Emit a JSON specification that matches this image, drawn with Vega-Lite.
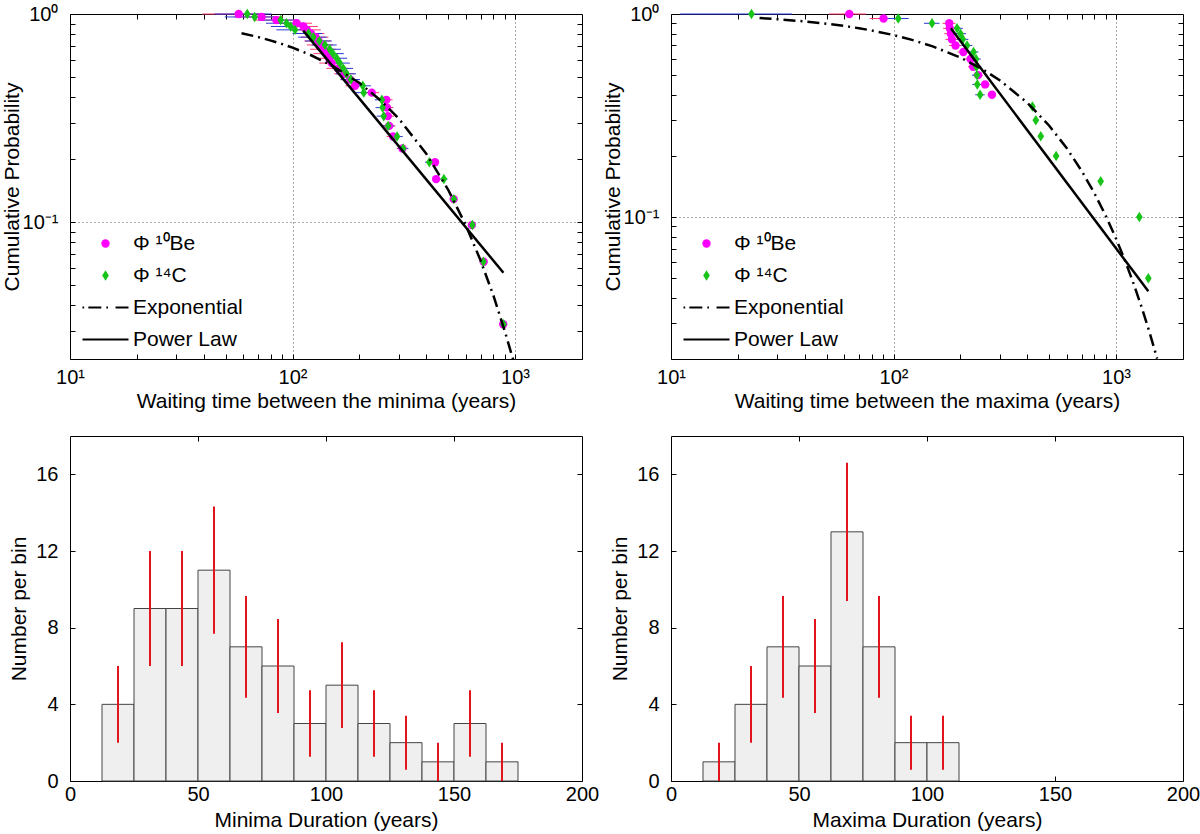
{
  "$schema": "https://vega.github.io/schema/vega-lite/v6.json",
  "padding": {"left": 0, "top": 3, "right": 0, "bottom": 0},
  "bounds": "flush",
  "columns": 2,
  "spacing": {"row": 77, "column": 89},
  "resolve": {"scale": {"color": "independent", "shape": "independent"}},
  "config": {
    "font": "Liberation Sans",
    "view": {"stroke": "black", "strokeWidth": 1},
    "axis": {
      "labelFont": "Liberation Sans", "labelFontSize": 20, "labelColor": "black",
      "titleFont": "Liberation Sans", "titleFontSize": 21, "titleFontWeight": "normal", "titleColor": "black",
      "domain": false, "tickColor": "black", "tickSize": -5, "tickWidth": 1,
      "labelFlush": false, "labelOverlap": false, "labelBound": false
    },
    "legend": {"labelFont": "Liberation Sans", "labelFontSize": 21, "labelColor": "black"}
  },
  "datasets": {
    "minPts": [
      {"series": "Φ ¹⁰Be", "x": 57.3, "p": 1.0, "lo": 39.3, "hi": 75.3},
      {"series": "Φ ¹⁰Be", "x": 72.6, "p": 0.968, "lo": 54.6, "hi": 90.6},
      {"series": "Φ ¹⁰Be", "x": 84.6, "p": 0.935, "lo": 66.6, "hi": 102.6},
      {"series": "Φ ¹⁰Be", "x": 104.4, "p": 0.903, "lo": 86.4, "hi": 122.4},
      {"series": "Φ ¹⁰Be", "x": 112, "p": 0.871, "lo": 94, "hi": 130},
      {"series": "Φ ¹⁰Be", "x": 116, "p": 0.839, "lo": 98, "hi": 134},
      {"series": "Φ ¹⁰Be", "x": 121, "p": 0.806, "lo": 103, "hi": 139},
      {"series": "Φ ¹⁰Be", "x": 127, "p": 0.774, "lo": 109, "hi": 145},
      {"series": "Φ ¹⁰Be", "x": 131, "p": 0.742, "lo": 113, "hi": 149},
      {"series": "Φ ¹⁰Be", "x": 134, "p": 0.710, "lo": 116, "hi": 152},
      {"series": "Φ ¹⁰Be", "x": 138, "p": 0.677, "lo": 120, "hi": 156},
      {"series": "Φ ¹⁰Be", "x": 142, "p": 0.645, "lo": 124, "hi": 160},
      {"series": "Φ ¹⁰Be", "x": 146, "p": 0.613, "lo": 128, "hi": 164},
      {"series": "Φ ¹⁰Be", "x": 150, "p": 0.581, "lo": 132, "hi": 168},
      {"series": "Φ ¹⁰Be", "x": 160, "p": 0.548, "lo": 142, "hi": 178},
      {"series": "Φ ¹⁰Be", "x": 172, "p": 0.516, "lo": 154, "hi": 190},
      {"series": "Φ ¹⁰Be", "x": 182, "p": 0.484, "lo": 164, "hi": 200},
      {"series": "Φ ¹⁰Be", "x": 191, "p": 0.452, "lo": 173, "hi": 209},
      {"series": "Φ ¹⁰Be", "x": 227, "p": 0.419, "lo": 209, "hi": 245},
      {"series": "Φ ¹⁰Be", "x": 264, "p": 0.387, "lo": 246, "hi": 282},
      {"series": "Φ ¹⁰Be", "x": 266, "p": 0.355, "lo": 248, "hi": 284},
      {"series": "Φ ¹⁰Be", "x": 268, "p": 0.323, "lo": 250, "hi": 286},
      {"series": "Φ ¹⁰Be", "x": 272, "p": 0.290, "lo": 254, "hi": 290},
      {"series": "Φ ¹⁰Be", "x": 283, "p": 0.258, "lo": 265, "hi": 301},
      {"series": "Φ ¹⁰Be", "x": 312, "p": 0.226, "lo": 294, "hi": 330},
      {"series": "Φ ¹⁰Be", "x": 437, "p": 0.194, "lo": 419, "hi": 455},
      {"series": "Φ ¹⁰Be", "x": 442, "p": 0.161, "lo": 424, "hi": 460},
      {"series": "Φ ¹⁰Be", "x": 530, "p": 0.129, "lo": 512, "hi": 548},
      {"series": "Φ ¹⁰Be", "x": 640, "p": 0.0968, "lo": 622, "hi": 658},
      {"series": "Φ ¹⁰Be", "x": 723, "p": 0.0645, "lo": 705, "hi": 741},
      {"series": "Φ ¹⁰Be", "x": 885, "p": 0.0323, "lo": 867, "hi": 903},
      {"series": "Φ ¹⁴C", "x": 62.6, "p": 1.0, "lo": 44.6, "hi": 80.6},
      {"series": "Φ ¹⁴C", "x": 67.6, "p": 0.968, "lo": 49.6, "hi": 85.6},
      {"series": "Φ ¹⁴C", "x": 88.5, "p": 0.935, "lo": 70.5, "hi": 106.5},
      {"series": "Φ ¹⁴C", "x": 94, "p": 0.903, "lo": 76, "hi": 112},
      {"series": "Φ ¹⁴C", "x": 98, "p": 0.871, "lo": 80, "hi": 116},
      {"series": "Φ ¹⁴C", "x": 102.6, "p": 0.839, "lo": 84.6, "hi": 120.6},
      {"series": "Φ ¹⁴C", "x": 118, "p": 0.806, "lo": 100, "hi": 136},
      {"series": "Φ ¹⁴C", "x": 124, "p": 0.774, "lo": 106, "hi": 142},
      {"series": "Φ ¹⁴C", "x": 132, "p": 0.742, "lo": 114, "hi": 150},
      {"series": "Φ ¹⁴C", "x": 140, "p": 0.710, "lo": 122, "hi": 158},
      {"series": "Φ ¹⁴C", "x": 147, "p": 0.677, "lo": 129, "hi": 165},
      {"series": "Φ ¹⁴C", "x": 152, "p": 0.645, "lo": 134, "hi": 170},
      {"series": "Φ ¹⁴C", "x": 158, "p": 0.613, "lo": 140, "hi": 176},
      {"series": "Φ ¹⁴C", "x": 163, "p": 0.581, "lo": 145, "hi": 181},
      {"series": "Φ ¹⁴C", "x": 169, "p": 0.548, "lo": 151, "hi": 187},
      {"series": "Φ ¹⁴C", "x": 175, "p": 0.516, "lo": 157, "hi": 193},
      {"series": "Φ ¹⁴C", "x": 183, "p": 0.484, "lo": 165, "hi": 201},
      {"series": "Φ ¹⁴C", "x": 207, "p": 0.452, "lo": 189, "hi": 225},
      {"series": "Φ ¹⁴C", "x": 209, "p": 0.419, "lo": 191, "hi": 227},
      {"series": "Φ ¹⁴C", "x": 252, "p": 0.387, "lo": 234, "hi": 270},
      {"series": "Φ ¹⁴C", "x": 254, "p": 0.355, "lo": 236, "hi": 272},
      {"series": "Φ ¹⁴C", "x": 257, "p": 0.323, "lo": 239, "hi": 275},
      {"series": "Φ ¹⁴C", "x": 269, "p": 0.290, "lo": 251, "hi": 287},
      {"series": "Φ ¹⁴C", "x": 295, "p": 0.258, "lo": 277, "hi": 313},
      {"series": "Φ ¹⁴C", "x": 314, "p": 0.226, "lo": 296, "hi": 332},
      {"series": "Φ ¹⁴C", "x": 412, "p": 0.194, "lo": 394, "hi": 430},
      {"series": "Φ ¹⁴C", "x": 479, "p": 0.161, "lo": 461, "hi": 497},
      {"series": "Φ ¹⁴C", "x": 531, "p": 0.129, "lo": 513, "hi": 549},
      {"series": "Φ ¹⁴C", "x": 643, "p": 0.0968, "lo": 625, "hi": 661},
      {"series": "Φ ¹⁴C", "x": 721, "p": 0.0645, "lo": 703, "hi": 739},
      {"series": "Φ ¹⁴C", "x": 887, "p": 0.0323, "lo": 869, "hi": 905}
    ],
    "maxPts": [
      {"series": "Φ ¹⁰Be", "x": 63.3, "p": 1.0, "lo": 51.3, "hi": 75.3},
      {"series": "Φ ¹⁰Be", "x": 90.2, "p": 0.95, "lo": 78.2, "hi": 102.2},
      {"series": "Φ ¹⁰Be", "x": 178, "p": 0.90, "lo": 166, "hi": 190},
      {"series": "Φ ¹⁰Be", "x": 179, "p": 0.85, "lo": 167, "hi": 191},
      {"series": "Φ ¹⁰Be", "x": 181, "p": 0.80, "lo": 169, "hi": 193},
      {"series": "Φ ¹⁰Be", "x": 183, "p": 0.75, "lo": 171, "hi": 195},
      {"series": "Φ ¹⁰Be", "x": 190, "p": 0.70, "lo": 178, "hi": 202},
      {"series": "Φ ¹⁰Be", "x": 206, "p": 0.65, "lo": 194, "hi": 218},
      {"series": "Φ ¹⁰Be", "x": 222, "p": 0.60, "lo": 210, "hi": 234},
      {"series": "Φ ¹⁰Be", "x": 228, "p": 0.55, "lo": 216, "hi": 240},
      {"series": "Φ ¹⁰Be", "x": 240, "p": 0.50, "lo": 228, "hi": 252},
      {"series": "Φ ¹⁰Be", "x": 258, "p": 0.45, "lo": 246, "hi": 270},
      {"series": "Φ ¹⁰Be", "x": 277, "p": 0.40, "lo": 265, "hi": 289},
      {"series": "Φ ¹⁴C", "x": 23, "p": 1.0, "lo": 11, "hi": 35},
      {"series": "Φ ¹⁴C", "x": 105, "p": 0.95, "lo": 93, "hi": 117},
      {"series": "Φ ¹⁴C", "x": 149, "p": 0.90, "lo": 137, "hi": 161},
      {"series": "Φ ¹⁴C", "x": 193, "p": 0.85, "lo": 181, "hi": 205},
      {"series": "Φ ¹⁴C", "x": 200, "p": 0.80, "lo": 188, "hi": 212},
      {"series": "Φ ¹⁴C", "x": 205, "p": 0.75, "lo": 193, "hi": 217},
      {"series": "Φ ¹⁴C", "x": 214, "p": 0.70, "lo": 202, "hi": 226},
      {"series": "Φ ¹⁴C", "x": 229, "p": 0.65, "lo": 217, "hi": 241},
      {"series": "Φ ¹⁴C", "x": 235, "p": 0.60, "lo": 223, "hi": 247},
      {"series": "Φ ¹⁴C", "x": 236, "p": 0.55, "lo": 224, "hi": 248},
      {"series": "Φ ¹⁴C", "x": 237, "p": 0.50, "lo": 225, "hi": 249},
      {"series": "Φ ¹⁴C", "x": 238, "p": 0.45, "lo": 226, "hi": 250},
      {"series": "Φ ¹⁴C", "x": 245, "p": 0.40, "lo": 233, "hi": 257},
      {"series": "Φ ¹⁴C", "x": 421, "p": 0.35, "lo": 409, "hi": 433},
      {"series": "Φ ¹⁴C", "x": 436, "p": 0.30, "lo": 424, "hi": 448},
      {"series": "Φ ¹⁴C", "x": 459, "p": 0.25, "lo": 447, "hi": 471},
      {"series": "Φ ¹⁴C", "x": 538, "p": 0.20, "lo": 526, "hi": 550},
      {"series": "Φ ¹⁴C", "x": 853, "p": 0.15, "lo": 841, "hi": 865},
      {"series": "Φ ¹⁴C", "x": 1273, "p": 0.10, "lo": 1261, "hi": 1285},
      {"series": "Φ ¹⁴C", "x": 1397, "p": 0.05, "lo": 1385, "hi": 1409}
    ],
    "minExp": [
      {"x": 59, "p": 0.809}, {"x": 70, "p": 0.775}, {"x": 80, "p": 0.745}, {"x": 90, "p": 0.717},
      {"x": 100, "p": 0.689}, {"x": 120, "p": 0.637}, {"x": 150, "p": 0.566}, {"x": 200, "p": 0.466},
      {"x": 250, "p": 0.383}, {"x": 300, "p": 0.315}, {"x": 400, "p": 0.2125}, {"x": 500, "p": 0.1435},
      {"x": 600, "p": 0.097}, {"x": 700, "p": 0.0655}, {"x": 800, "p": 0.0443}, {"x": 900, "p": 0.0299},
      {"x": 980, "p": 0.0219}
    ],
    "maxExp": [
      {"x": 25, "p": 0.955}, {"x": 30, "p": 0.943}, {"x": 40, "p": 0.919}, {"x": 50, "p": 0.896},
      {"x": 60, "p": 0.873}, {"x": 70, "p": 0.851}, {"x": 80, "p": 0.829}, {"x": 100, "p": 0.788},
      {"x": 120, "p": 0.748}, {"x": 150, "p": 0.693}, {"x": 200, "p": 0.610}, {"x": 250, "p": 0.536},
      {"x": 300, "p": 0.472}, {"x": 400, "p": 0.365}, {"x": 500, "p": 0.2825}, {"x": 600, "p": 0.2186},
      {"x": 700, "p": 0.1691}, {"x": 800, "p": 0.1309}, {"x": 900, "p": 0.1013}, {"x": 1000, "p": 0.0784},
      {"x": 1100, "p": 0.0607}, {"x": 1200, "p": 0.0469}, {"x": 1300, "p": 0.0363}, {"x": 1400, "p": 0.0281},
      {"x": 1500, "p": 0.0217}, {"x": 1530, "p": 0.0201}
    ],
    "minPow": [{"x": 111.7, "p": 0.832}, {"x": 887, "p": 0.0571}],
    "maxPow": [{"x": 181, "p": 0.85}, {"x": 1397, "p": 0.0431}],
    "minHist": [
      {"b0": 12.5, "b1": 25, "c": 18.75, "n": 4, "lo": 2, "hi": 6},
      {"b0": 25, "b1": 37.5, "c": 31.25, "n": 9, "lo": 6, "hi": 12},
      {"b0": 37.5, "b1": 50, "c": 43.75, "n": 9, "lo": 6, "hi": 12},
      {"b0": 50, "b1": 62.5, "c": 56.25, "n": 11, "lo": 7.68, "hi": 14.32},
      {"b0": 62.5, "b1": 75, "c": 68.75, "n": 7, "lo": 4.35, "hi": 9.65},
      {"b0": 75, "b1": 87.5, "c": 81.25, "n": 6, "lo": 3.55, "hi": 8.45},
      {"b0": 87.5, "b1": 100, "c": 93.75, "n": 3, "lo": 1.27, "hi": 4.73},
      {"b0": 100, "b1": 112.5, "c": 106.25, "n": 5, "lo": 2.76, "hi": 7.24},
      {"b0": 112.5, "b1": 125, "c": 118.75, "n": 3, "lo": 1.27, "hi": 4.73},
      {"b0": 125, "b1": 137.5, "c": 131.25, "n": 2, "lo": 0.59, "hi": 3.41},
      {"b0": 137.5, "b1": 150, "c": 143.75, "n": 1, "lo": 0, "hi": 2},
      {"b0": 150, "b1": 162.5, "c": 156.25, "n": 3, "lo": 1.27, "hi": 4.73},
      {"b0": 162.5, "b1": 175, "c": 168.75, "n": 1, "lo": 0, "hi": 2}
    ],
    "maxHist": [
      {"b0": 12.5, "b1": 25, "c": 18.75, "n": 1, "lo": 0, "hi": 2},
      {"b0": 25, "b1": 37.5, "c": 31.25, "n": 4, "lo": 2, "hi": 6},
      {"b0": 37.5, "b1": 50, "c": 43.75, "n": 7, "lo": 4.35, "hi": 9.65},
      {"b0": 50, "b1": 62.5, "c": 56.25, "n": 6, "lo": 3.55, "hi": 8.45},
      {"b0": 62.5, "b1": 75, "c": 68.75, "n": 13, "lo": 9.39, "hi": 16.61},
      {"b0": 75, "b1": 87.5, "c": 81.25, "n": 7, "lo": 4.35, "hi": 9.65},
      {"b0": 87.5, "b1": 100, "c": 93.75, "n": 2, "lo": 0.59, "hi": 3.41},
      {"b0": 100, "b1": 112.5, "c": 106.25, "n": 2, "lo": 0.59, "hi": 3.41}
    ]
  },
  "concat": [
    {
      "width": 512, "height": 345,
      "resolve": {"axis": {"x": "independent", "y": "independent"}},
      "layer": [
        {
          "data": {"name": "minPts"},
          "mark": {"type": "rule", "strokeWidth": 1},
          "encoding": {
            "x": {"field": "lo", "type": "quantitative", "scale": {"type": "log", "domain": [10, 2000], "nice": false},
              "axis": {"orient": "bottom", "values": [10,20,30,40,50,60,70,80,90,100,200,300,400,500,600,700,800,900,1000,2000],
                "labelExpr": "datum.value === 10 ? '10¹' : datum.value === 100 ? '10²' : datum.value === 1000 ? '10³' : ''",
                "grid": true, "gridDash": [1, 3], "gridColor": "#555",
                "gridOpacity": {"condition": {"test": "datum.value === 100 || datum.value === 1000", "value": 1}, "value": 0},
                "labelPadding": 13, "title": "Waiting time between the minima (years)", "titlePadding": 3}},
            "x2": {"field": "hi"},
            "y": {"field": "p", "type": "quantitative", "scale": {"type": "log", "domain": [0.022, 1], "nice": false},
              "axis": {"orient": "left", "values": [0.03,0.04,0.05,0.06,0.07,0.08,0.09,0.1,0.2,0.3,0.4,0.5,0.6,0.7,0.8,0.9,1],
                "labelExpr": "datum.value === 1 ? '10⁰' : datum.value === 0.1 ? '10⁻¹' : ''",
                "grid": true, "gridDash": [1, 3], "gridColor": "#555",
                "gridOpacity": {"condition": {"test": "datum.value === 0.1", "value": 1}, "value": 0},
                "labelPadding": 17, "title": "Cumulative Probability", "titlePadding": 0}},
            "color": {"condition": {"test": "datum.series === 'Φ ¹⁴C'", "value": "#2a3ad6"}, "value": "#ff3870"}
          }
        },
        {
          "data": {"name": "minPts"},
          "mark": {"type": "point", "filled": true, "opacity": 1, "size": 70},
          "encoding": {
            "x": {"field": "x", "type": "quantitative", "axis": null},
            "y": {"field": "p", "type": "quantitative", "axis": null},
            "color": {"field": "series", "type": "nominal",
              "scale": {"domain": ["Φ ¹⁰Be", "Φ ¹⁴C", "Exponential", "Power Law"], "range": ["#ff00ff", "#18c418", "black", "black"]},
              "legend": {"title": null, "orient": "bottom-left", "offset": 9, "padding": 0, "symbolOffset": 16, "labelOffset": 17, "rowPadding": 10, "symbolSize": 70, "symbolStrokeWidth": 0}},
            "shape": {"field": "series", "type": "nominal",
              "scale": {"domain": ["Φ ¹⁰Be", "Φ ¹⁴C", "Exponential", "Power Law"],
                "range": ["circle", "M0,-1.25L0.8,0L0,1.25L-0.8,0Z",
                  "M-5.5,-0.26h0.4v0.52h-0.4ZM-4.1,-0.26h3.1v0.52h-3.1ZM0.2,-0.26h0.4v0.52h-0.4ZM2.4,-0.26h3.1v0.52h-3.1Z",
                  "M-5.5,-0.26h11v0.52h-11Z"]},
              "legend": {"title": null, "orient": "bottom-left", "offset": 9, "padding": 0, "symbolOffset": 16, "labelOffset": 17, "rowPadding": 10, "symbolSize": 70, "symbolStrokeWidth": 0}}
          }
        },
        {
          "data": {"name": "minExp"},
          "mark": {"type": "line", "color": "black", "strokeWidth": 2.5, "strokeDash": [12, 5, 2, 5], "clip": true},
          "encoding": {
            "x": {"field": "x", "type": "quantitative", "axis": null},
            "y": {"field": "p", "type": "quantitative", "axis": null}
          }
        },
        {
          "data": {"name": "minPow"},
          "mark": {"type": "line", "color": "black", "strokeWidth": 2.5, "clip": true},
          "encoding": {
            "x": {"field": "x", "type": "quantitative",
              "axis": {"orient": "top", "values": [20,30,40,50,60,70,80,90,100,200,300,400,500,600,700,800,900,1000], "labels": false, "grid": false, "title": null}},
            "y": {"field": "p", "type": "quantitative",
              "axis": {"orient": "right", "values": [0.03,0.04,0.05,0.06,0.07,0.08,0.09,0.1,0.2,0.3,0.4,0.5,0.6,0.7,0.8,0.9], "labels": false, "grid": false, "title": null}}
          }
        }
      ]
    },
    {
      "width": 512, "height": 345,
      "resolve": {"axis": {"x": "independent", "y": "independent"}},
      "layer": [
        {
          "data": {"name": "maxPts"},
          "mark": {"type": "rule", "strokeWidth": 1},
          "encoding": {
            "x": {"field": "lo", "type": "quantitative", "scale": {"type": "log", "domain": [10, 2000], "nice": false},
              "axis": {"orient": "bottom", "values": [10,20,30,40,50,60,70,80,90,100,200,300,400,500,600,700,800,900,1000,2000],
                "labelExpr": "datum.value === 10 ? '10¹' : datum.value === 100 ? '10²' : datum.value === 1000 ? '10³' : ''",
                "grid": true, "gridDash": [1, 3], "gridColor": "#555",
                "gridOpacity": {"condition": {"test": "datum.value === 100 || datum.value === 1000", "value": 1}, "value": 0},
                "labelPadding": 13, "title": "Waiting time between the maxima (years)", "titlePadding": 3}},
            "x2": {"field": "hi"},
            "y": {"field": "p", "type": "quantitative", "scale": {"type": "log", "domain": [0.02, 1], "nice": false},
              "axis": {"orient": "left", "values": [0.03,0.04,0.05,0.06,0.07,0.08,0.09,0.1,0.2,0.3,0.4,0.5,0.6,0.7,0.8,0.9,1],
                "labelExpr": "datum.value === 1 ? '10⁰' : datum.value === 0.1 ? '10⁻¹' : ''",
                "grid": true, "gridDash": [1, 3], "gridColor": "#555",
                "gridOpacity": {"condition": {"test": "datum.value === 0.1", "value": 1}, "value": 0},
                "labelPadding": 17, "title": "Cumulative Probability", "titlePadding": 0}},
            "color": {"condition": {"test": "datum.series === 'Φ ¹⁴C'", "value": "#2a3ad6"}, "value": "#ff3870"}
          }
        },
        {
          "data": {"name": "maxPts"},
          "mark": {"type": "point", "filled": true, "opacity": 1, "size": 70},
          "encoding": {
            "x": {"field": "x", "type": "quantitative", "axis": null},
            "y": {"field": "p", "type": "quantitative", "axis": null},
            "color": {"field": "series", "type": "nominal",
              "scale": {"domain": ["Φ ¹⁰Be", "Φ ¹⁴C", "Exponential", "Power Law"], "range": ["#ff00ff", "#18c418", "black", "black"]},
              "legend": {"title": null, "orient": "bottom-left", "offset": 9, "padding": 0, "symbolOffset": 16, "labelOffset": 17, "rowPadding": 10, "symbolSize": 70, "symbolStrokeWidth": 0}},
            "shape": {"field": "series", "type": "nominal",
              "scale": {"domain": ["Φ ¹⁰Be", "Φ ¹⁴C", "Exponential", "Power Law"],
                "range": ["circle", "M0,-1.25L0.8,0L0,1.25L-0.8,0Z",
                  "M-5.5,-0.26h0.4v0.52h-0.4ZM-4.1,-0.26h3.1v0.52h-3.1ZM0.2,-0.26h0.4v0.52h-0.4ZM2.4,-0.26h3.1v0.52h-3.1Z",
                  "M-5.5,-0.26h11v0.52h-11Z"]},
              "legend": {"title": null, "orient": "bottom-left", "offset": 9, "padding": 0, "symbolOffset": 16, "labelOffset": 17, "rowPadding": 10, "symbolSize": 70, "symbolStrokeWidth": 0}}
          }
        },
        {
          "data": {"name": "maxExp"},
          "mark": {"type": "line", "color": "black", "strokeWidth": 2.5, "strokeDash": [12, 5, 2, 5], "clip": true},
          "encoding": {
            "x": {"field": "x", "type": "quantitative", "axis": null},
            "y": {"field": "p", "type": "quantitative", "axis": null}
          }
        },
        {
          "data": {"name": "maxPow"},
          "mark": {"type": "line", "color": "black", "strokeWidth": 2.5, "clip": true},
          "encoding": {
            "x": {"field": "x", "type": "quantitative",
              "axis": {"orient": "top", "values": [20,30,40,50,60,70,80,90,100,200,300,400,500,600,700,800,900,1000], "labels": false, "grid": false, "title": null}},
            "y": {"field": "p", "type": "quantitative",
              "axis": {"orient": "right", "values": [0.03,0.04,0.05,0.06,0.07,0.08,0.09,0.1,0.2,0.3,0.4,0.5,0.6,0.7,0.8,0.9], "labels": false, "grid": false, "title": null}}
          }
        }
      ]
    },
    {
      "width": 512, "height": 345,
      "data": {"name": "minHist"},
      "resolve": {"axis": {"x": "independent", "y": "independent"}},
      "layer": [
        {
          "mark": {"type": "bar", "fill": "#efefef", "stroke": "#444", "strokeWidth": 1},
          "encoding": {
            "x": {"field": "b0", "type": "quantitative", "scale": {"domain": [0, 200], "nice": false},
              "axis": {"orient": "bottom", "values": [0, 50, 100, 150, 200], "grid": false, "labelPadding": 8, "title": "Minima Duration (years)", "titlePadding": 5}},
            "x2": {"field": "b1"},
            "y": {"field": "n", "type": "quantitative", "scale": {"domain": [0, 18], "nice": false},
              "axis": {"orient": "left", "values": [0, 4, 8, 12, 16], "grid": false, "labelPadding": 17, "title": "Number per bin", "titlePadding": 6}},
            "y2": {"datum": 0}
          }
        },
        {
          "mark": {"type": "rule", "color": "#e4141c", "strokeWidth": 2},
          "encoding": {
            "x": {"field": "c", "type": "quantitative",
              "axis": {"orient": "top", "values": [50, 100, 150], "labels": false, "grid": false, "title": null}},
            "y": {"field": "lo", "type": "quantitative",
              "axis": {"orient": "right", "values": [4, 8, 12, 16], "labels": false, "grid": false, "title": null}},
            "y2": {"field": "hi"}
          }
        }
      ]
    },
    {
      "width": 512, "height": 345,
      "data": {"name": "maxHist"},
      "resolve": {"axis": {"x": "independent", "y": "independent"}},
      "layer": [
        {
          "mark": {"type": "bar", "fill": "#efefef", "stroke": "#444", "strokeWidth": 1},
          "encoding": {
            "x": {"field": "b0", "type": "quantitative", "scale": {"domain": [0, 200], "nice": false},
              "axis": {"orient": "bottom", "values": [0, 50, 100, 150, 200], "grid": false, "labelPadding": 8, "title": "Maxima Duration (years)", "titlePadding": 5}},
            "x2": {"field": "b1"},
            "y": {"field": "n", "type": "quantitative", "scale": {"domain": [0, 18], "nice": false},
              "axis": {"orient": "left", "values": [0, 4, 8, 12, 16], "grid": false, "labelPadding": 17, "title": "Number per bin", "titlePadding": 6}},
            "y2": {"datum": 0}
          }
        },
        {
          "mark": {"type": "rule", "color": "#e4141c", "strokeWidth": 2},
          "encoding": {
            "x": {"field": "c", "type": "quantitative",
              "axis": {"orient": "top", "values": [50, 100, 150], "labels": false, "grid": false, "title": null}},
            "y": {"field": "lo", "type": "quantitative",
              "axis": {"orient": "right", "values": [4, 8, 12, 16], "labels": false, "grid": false, "title": null}},
            "y2": {"field": "hi"}
          }
        }
      ]
    }
  ]
}
